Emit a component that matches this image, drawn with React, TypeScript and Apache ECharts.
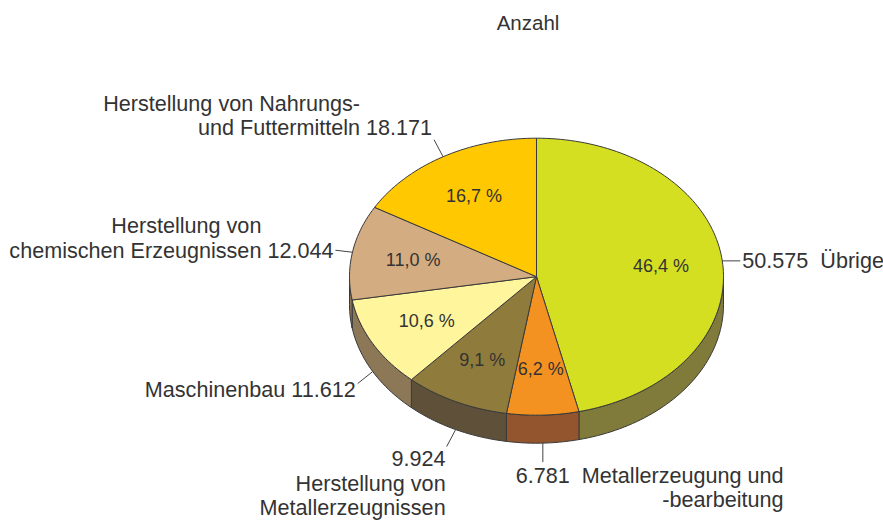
import React, { useEffect, useRef } from 'react';
import * as echarts from 'echarts';

const TITLE = 'Anzahl';
const CATEGORIES = [
  'Übrige',
  'Metallerzeugung und\n-bearbeitung',
  'Herstellung von\nMetallerzeugnissen',
  'Maschinenbau',
  'Herstellung von\nchemischen Erzeugnissen',
  'Herstellung von Nahrungs-\nund Futtermitteln',
];
const VALUES = [50575, 6781, 9924, 11612, 12044, 18171];

const TOP_COLORS = ['#d5df22', '#f39221', '#8f7b3b', '#fff59d', '#d3ac82', '#ffc800'];
const SIDE_COLORS = ['#807b3b', '#93552d', '#5f5039', '#8c7857', '#8b7556', '#a07e10'];

// label styles (layout, not data)
const LABEL_MODE = ['valueFirstRight', 'below', 'leftValueAbove', 'leftValueAfter', 'leftValueAfter', 'leftValueAfter'];
const LEADERS = [[18, 0], [0, 19], [-9, 17], [-15, 12], [-17, -2], [-9, -17]];
const TEXT_DY = [0, 13, 12, 6, 0, -12];

const FONT_FAMILY = '"Liberation Sans", Arial, Helvetica, sans-serif';
const LABEL_SIZE = 21.6;
const PCT_SIZE = 18;
const LINE_H = 24.5;
const TEXT_COLOR = '#333333';
const STROKE = '#3a3a3a';

const CX = 536.5;
const CY = 276.7;
const RX = 187;
const RY = 138.5;
const DEPTH = 28;

const fmtInt = (v: number) => String(v).replace(/\B(?=(\d{3})+(?!\d))/g, '.');

let ctx2d: CanvasRenderingContext2D | null = null;
function measure(text: string, size: number) {
  if (!ctx2d) ctx2d = document.createElement('canvas').getContext('2d');
  ctx2d!.font = `${size}px "Liberation Sans"`;
  return ctx2d!.measureText(text).width;
}

function pt(t: number, dz = 0) {
  return [CX + RX * Math.sin(t), CY - RY * Math.cos(t) + dz];
}

function arcPts(a: number, b: number, dz = 0) {
  const pts: number[][] = [];
  const n = Math.max(2, Math.ceil(((b - a) / (Math.PI * 2)) * 240));
  for (let i = 0; i <= n; i++) pts.push(pt(a + ((b - a) * i) / n, dz));
  return pts;
}

function textEl(text: string, x: number, y: number, align: string, size = LABEL_SIZE) {
  return {
    type: 'text',
    x,
    y,
    style: {
      text,
      fill: TEXT_COLOR,
      fontSize: size,
      fontFamily: FONT_FAMILY,
      align,
      verticalAlign: 'middle',
    },
  };
}

export default function App() {
  const ref = useRef<HTMLDivElement>(null);
  useEffect(() => {
    if (!ref.current) return;
    const chart = echarts.init(ref.current, null, { renderer: 'svg' });
    const total = VALUES.reduce((a, b) => a + b, 0);
    let acc = 0;
    const data = VALUES.map((v, i) => {
      const s = acc / total;
      acc += v;
      return [s, acc / total, v, i];
    });

    const sideSeries = {
      type: 'custom',
      coordinateSystem: 'none',
      silent: true,
      data,
      renderItem: (_p: any, api: any) => {
        const a0 = api.value(0) * Math.PI * 2;
        const a1 = api.value(1) * Math.PI * 2;
        const i = api.value(3);
        const s = Math.max(a0, Math.PI / 2);
        const e = Math.min(a1, (Math.PI * 3) / 2);
        if (s >= e) return { type: 'group', children: [] };
        const top = arcPts(s, e, 0);
        const bot = arcPts(s, e, DEPTH).reverse();
        return {
          type: 'polygon',
          shape: { points: top.concat(bot) },
          style: { fill: SIDE_COLORS[i], stroke: STROKE, lineWidth: 1, lineJoin: 'round' },
        };
      },
    };

    const topSeries = {
      type: 'custom',
      coordinateSystem: 'none',
      silent: true,
      data,
      renderItem: (_p: any, api: any) => {
        const f0 = api.value(0);
        const f1 = api.value(1);
        const v = api.value(2);
        const i = api.value(3);
        const a0 = f0 * Math.PI * 2;
        const a1 = f1 * Math.PI * 2;
        const mid = (a0 + a1) / 2;
        const children: any[] = [];
        children.push({
          type: 'polygon',
          shape: { points: [[CX, CY]].concat(arcPts(a0, a1, 0)) },
          style: { fill: TOP_COLORS[i], stroke: STROKE, lineWidth: 1, lineJoin: 'round' },
        });
        // percent label
        const pct = ((v / total) * 100).toFixed(1).replace('.', ',') + ' %';
        const pp = [CX + 0.67 * RX * Math.sin(mid), CY - 0.67 * RY * Math.cos(mid)];
        children.push(textEl(pct, pp[0], pp[1], 'center', PCT_SIZE));

        // leader line
        const front = Math.cos(mid) < 0;
        const st = pt(mid, front ? DEPTH : 0);
        const en = [st[0] + LEADERS[i][0], st[1] + LEADERS[i][1]];
        children.push({
          type: 'line',
          shape: { x1: st[0], y1: st[1], x2: en[0], y2: en[1] },
          style: { stroke: '#444', lineWidth: 1 },
        });

        const name: string = CATEGORIES[i];
        const lines = name.split('\n');
        const val = fmtInt(v);
        const mode = LABEL_MODE[i];
        const ty = en[1] + TEXT_DY[i];
        if (mode === 'valueFirstRight') {
          children.push(textEl(`${val}  ${name}`, en[0] + 2, ty, 'left'));
        } else if (mode === 'below') {
          children.push(textEl(val, en[0], ty, 'center'));
          const left = en[0] + measure(val, LABEL_SIZE) / 2 + 12;
          const maxW = Math.max(...lines.map((l) => measure(l, LABEL_SIZE)));
          lines.forEach((l, k) => children.push(textEl(l, left + maxW, ty + k * LINE_H, 'right')));
        } else if (mode === 'leftValueAbove') {
          const xr = en[0] - 1;
          children.push(textEl(val, xr, ty, 'right'));
          lines.forEach((l, k) => children.push(textEl(l, xr, ty + (k + 1) * LINE_H, 'right')));
        } else {
          const xr = en[0] - 2;
          const vt = ' ' + val;
          const wv = measure(vt, LABEL_SIZE);
          const xn = xr - wv;
          const n = lines.length;
          lines.forEach((l, k) => children.push(textEl(l, xn, ty - (n - 1 - k) * LINE_H, 'right')));
          children.push(textEl(vt, xn, ty, 'left'));
        }
        return { type: 'group', children };
      },
    };

    chart.setOption({
      animation: false,
      backgroundColor: '#ffffff',
      graphic: [
        {
          type: 'text',
          x: 528,
          y: 22,
          style: {
            text: TITLE,
            fill: TEXT_COLOR,
            fontSize: 20.5,
            fontFamily: FONT_FAMILY,
            align: 'center',
            verticalAlign: 'middle',
          },
        },
      ],
      series: [sideSeries, topSeries],
    });
    return () => chart.dispose();
  }, []);
  return (
    <div
      ref={ref}
      style={{ position: 'fixed', left: 0, top: 0, width: 883, height: 520, background: '#fff' }}
    />
  );
}
